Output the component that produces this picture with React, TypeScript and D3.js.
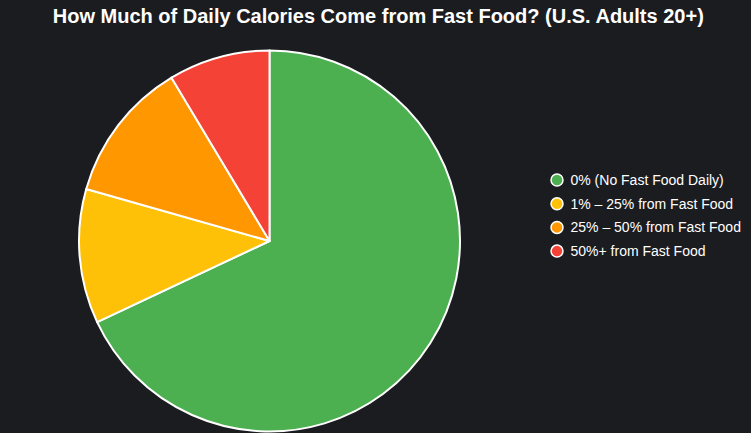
import React, { useEffect, useRef } from "react";
import * as d3 from "d3";

const categories = [
  "0% (No Fast Food Daily)",
  "1% – 25% from Fast Food",
  "25% – 50% from Fast Food",
  "50%+ from Fast Food",
];
const values = [68.0, 11.4, 12.0, 8.6];
const colors = ["#4CAF50", "#FFC107", "#FF9800", "#F44336"];
const title = "How Much of Daily Calories Come from Fast Food? (U.S. Adults 20+)";

const W = 751;
const H = 433;

export default function App() {
  const ref = useRef<SVGSVGElement | null>(null);
  useEffect(() => {
    const svg = d3.select(ref.current);
    svg.selectAll("*").remove();
    svg.append("rect").attr("width", W).attr("height", H).attr("fill", "#1b1c20");
    svg
      .append("text")
      .attr("x", 378.3)
      .attr("y", 23)
      .attr("text-anchor", "middle")
      .attr("fill", "#ffffff")
      .attr("font-family", "Liberation Sans, Arial, sans-serif")
      .attr("font-weight", "bold")
      .attr("font-size", 20)
      .text(title);

    const data = categories.map((c, i) => ({ c, v: values[i], col: colors[i] }));
    const pie = d3.pie<any>().value((d) => d.v).sort(null);
    const arc = d3.arc<any>().innerRadius(0).outerRadius(190.5);
    const g = svg.append("g").attr("transform", "translate(269.5,241)");
    g.selectAll("path")
      .data(pie(data))
      .join("path")
      .attr("d", arc)
      .attr("fill", (d: any) => d.data.col)
      .attr("stroke", "#ffffff")
      .attr("stroke-width", 2)
      .attr("stroke-linejoin", "round");

    const lg = svg.append("g");
    const items = lg
      .selectAll("g")
      .data(data)
      .join("g")
      .attr("transform", (_d, i) => `translate(557,${180 + i * 23.7})`);
    items
      .append("circle")
      .attr("r", 6)
      .attr("fill", (d) => d.col)
      .attr("stroke", "#ffffff")
      .attr("stroke-width", 1.5);
    items
      .append("text")
      .attr("x", 13.5)
      .attr("y", 5)
      .attr("fill", "#ffffff")
      .attr("font-family", "Liberation Sans, Arial, sans-serif")
      .attr("font-size", 14)
      .text((d) => d.c);
  }, []);
  return (
    <svg
      ref={ref}
      width={W}
      height={H}
      style={{ position: "absolute", left: 0, top: 0, display: "block" }}
    />
  );
}
